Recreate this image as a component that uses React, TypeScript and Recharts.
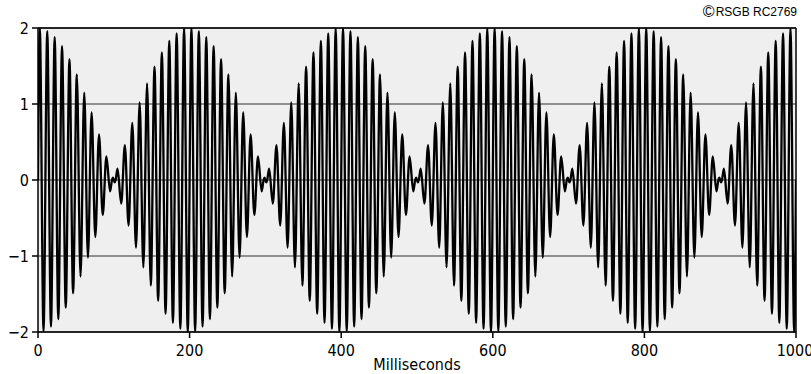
import React from "react";
import { LineChart, Line, XAxis, YAxis, CartesianGrid, ReferenceLine } from "recharts";

// Time (ms) of each turning point of the beat waveform
const timesMs: number[] = [
  0,
  2.4, 7.3, 12.2, 17.1, 22.0, 26.8, 31.7, 36.6, 41.5, 46.3, 51.2, 56.1, 61.0, 65.9, 70.7, 75.6, 80.5, 85.4, 90.2, 95.1, 97.6, 98.8, 100.0, 101.2, 102.4, 104.9, 109.8, 114.6, 119.5, 124.4, 129.3, 134.1, 139.0, 143.9, 148.8, 153.7, 158.5, 163.4, 168.3, 173.2, 178.0, 182.9, 187.8, 192.7, 197.6,
  202.4, 207.3, 212.2, 217.1, 222.0, 226.8, 231.7, 236.6, 241.5, 246.3, 251.2, 256.1, 261.0, 265.9, 270.7, 275.6, 280.5, 285.4, 290.2, 295.1, 297.6, 298.8, 300.0, 301.2, 302.4, 304.9, 309.8, 314.6, 319.5, 324.4, 329.3, 334.1, 339.0, 343.9, 348.8, 353.7, 358.5, 363.4, 368.3, 373.2, 378.0, 382.9, 387.8, 392.7, 397.6,
  402.4, 407.3, 412.2, 417.1, 422.0, 426.8, 431.7, 436.6, 441.5, 446.3, 451.2, 456.1, 461.0, 465.9, 470.7, 475.6, 480.5, 485.4, 490.2, 495.1, 497.6, 498.8, 500.0, 501.2, 502.4, 504.9, 509.8, 514.6, 519.5, 524.4, 529.3, 534.1, 539.0, 543.9, 548.8, 553.7, 558.5, 563.4, 568.3, 573.2, 578.0, 582.9, 587.8, 592.7, 597.6,
  602.4, 607.3, 612.2, 617.1, 622.0, 626.8, 631.7, 636.6, 641.5, 646.3, 651.2, 656.1, 661.0, 665.9, 670.7, 675.6, 680.5, 685.4, 690.2, 695.1, 697.6, 698.8, 700.0, 701.2, 702.4, 704.9, 709.8, 714.6, 719.5, 724.4, 729.3, 734.1, 739.0, 743.9, 748.8, 753.7, 758.5, 763.4, 768.3, 773.2, 778.0, 782.9, 787.8, 792.7, 797.6,
  802.4, 807.3, 812.2, 817.1, 822.0, 826.8, 831.7, 836.6, 841.5, 846.3, 851.2, 856.1, 861.0, 865.9, 870.7, 875.6, 880.5, 885.4, 890.2, 895.1, 897.6, 898.8, 900.0, 901.2, 902.4, 904.9, 909.8, 914.6, 919.5, 924.4, 929.3, 934.1, 939.0, 943.9, 948.8, 953.7, 958.5, 963.4, 968.3, 973.2, 978.0, 982.9, 987.8, 992.7, 997.6,
  1000,
];

// Signal value at each of those points
const signal: number[] = [
  0,
  2.0, -1.99, 1.96, -1.93, 1.88, -1.83, 1.76, -1.68, 1.59, -1.49, 1.39, -1.27, 1.15, -1.02, 0.89, -0.75, 0.6, -0.46, 0.31, -0.15, 0, 0.03, 0, -0.03, 0, 0.15, -0.31, 0.46, -0.6, 0.75, -0.89, 1.02, -1.15, 1.27, -1.39, 1.49, -1.59, 1.68, -1.76, 1.83, -1.88, 1.93, -1.96, 1.99, -2.0,
  2.0, -1.99, 1.96, -1.93, 1.88, -1.83, 1.76, -1.68, 1.59, -1.49, 1.39, -1.27, 1.15, -1.02, 0.89, -0.75, 0.6, -0.46, 0.31, -0.15, 0, 0.03, 0, -0.03, 0, 0.15, -0.31, 0.46, -0.6, 0.75, -0.89, 1.02, -1.15, 1.27, -1.39, 1.49, -1.59, 1.68, -1.76, 1.83, -1.88, 1.93, -1.96, 1.99, -2.0,
  2.0, -1.99, 1.96, -1.93, 1.88, -1.83, 1.76, -1.68, 1.59, -1.49, 1.39, -1.27, 1.15, -1.02, 0.89, -0.75, 0.6, -0.46, 0.31, -0.15, 0, 0.03, 0, -0.03, 0, 0.15, -0.31, 0.46, -0.6, 0.75, -0.89, 1.02, -1.15, 1.27, -1.39, 1.49, -1.59, 1.68, -1.76, 1.83, -1.88, 1.93, -1.96, 1.99, -2.0,
  2.0, -1.99, 1.96, -1.93, 1.88, -1.83, 1.76, -1.68, 1.59, -1.49, 1.39, -1.27, 1.15, -1.02, 0.89, -0.75, 0.6, -0.46, 0.31, -0.15, 0, 0.03, 0, -0.03, 0, 0.15, -0.31, 0.46, -0.6, 0.75, -0.89, 1.02, -1.15, 1.27, -1.39, 1.49, -1.59, 1.68, -1.76, 1.83, -1.88, 1.93, -1.96, 1.99, -2.0,
  2.0, -1.99, 1.96, -1.93, 1.88, -1.83, 1.76, -1.68, 1.59, -1.49, 1.39, -1.27, 1.15, -1.02, 0.89, -0.75, 0.6, -0.46, 0.31, -0.15, 0, 0.03, 0, -0.03, 0, 0.15, -0.31, 0.46, -0.6, 0.75, -0.89, 1.02, -1.15, 1.27, -1.39, 1.49, -1.59, 1.68, -1.76, 1.83, -1.88, 1.93, -1.96, 1.99, -2.0,
  0,
];

const xTicks: number[] = [0, 200, 400, 600, 800, 1000];
const yTicks: number[] = [-2, -1, 0, 1, 2];
const xLabel = "Milliseconds";
const copyrightMark = "\u00A9";
const copyrightText = "RSGB RC2769";

const data = timesMs.map((t, i) => ({ t, v: signal[i] }));

const tickFont = {
  fontFamily: "'DejaVu Sans Condensed', 'Liberation Sans Narrow', 'DejaVu Sans', sans-serif",
  fontSize: 16,
  fill: "#000",
};

const fmtY = (v: number) => (v < 0 ? "\u2212" + Math.abs(v) : String(v));

export default function App() {
  return (
    <div style={{ position: "absolute", left: 0, top: 0, width: 811, height: 374, background: "#fff", overflow: "hidden" }}>
      <LineChart
        width={811}
        height={374}
        data={data}
        margin={{ top: 28, right: 15, left: 0, bottom: 0 }}
      >
        <CartesianGrid vertical={false} stroke="#333" strokeWidth={1.2} fill="#efefef" fillOpacity={1} />
        <XAxis
          dataKey="t"
          type="number"
          domain={[0, 1000]}
          ticks={xTicks}
          height={42}
          tickSize={6}
          tickMargin={7}
          stroke="#000"
          strokeWidth={1.5}
          tick={tickFont}
          allowDataOverflow
          label={{ value: xLabel, position: "insideBottom", offset: 4, style: { ...tickFont, fontSize: 16 } }}
        />
        <YAxis
          type="number"
          domain={[-2, 2]}
          ticks={yTicks}
          width={38}
          tickSize={6}
          tickMargin={3}
          stroke="#000"
          strokeWidth={1.5}
          tick={tickFont}
          tickFormatter={fmtY}
          allowDataOverflow
        />
        <ReferenceLine y={2} stroke="#000" strokeWidth={1.5} />
        <ReferenceLine x={1000} stroke="#000" strokeWidth={1.5} />
        <Line
          type="monotone"
          dataKey="v"
          stroke="#000"
          strokeWidth={2.3}
          dot={false}
          isAnimationActive={false}
        />
      </LineChart>
      <div
        style={{
          position: "absolute",
          right: 14,
          top: 3,
          fontFamily: "'Liberation Sans', Arial, sans-serif",
          fontSize: 12,
          color: "#000",
          whiteSpace: "nowrap",
          display: "flex",
          alignItems: "center",
        }}
      >
        <span style={{ fontSize: 16, lineHeight: "18px", marginRight: 1 }}>{copyrightMark}</span>
        <span style={{ lineHeight: "18px" }}>{copyrightText}</span>
      </div>
    </div>
  );
}
